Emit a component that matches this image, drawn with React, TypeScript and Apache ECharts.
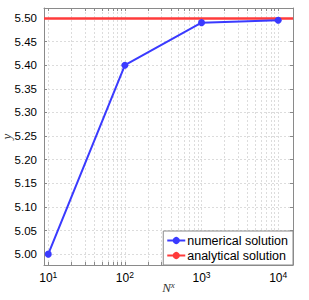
import React, { useEffect, useRef } from "react";
import * as echarts from "echarts";

const xValues = [10, 100, 1000, 10000];
const numerical = [5.0, 5.4, 5.49, 5.495];
const analytical = 5.4966;
const yTickValues = [5.0, 5.05, 5.1, 5.15, 5.2, 5.25, 5.3, 5.35, 5.4, 5.45, 5.5];
const xMajorValues = [10, 100, 1000, 10000];
const xMinorMultipliers = [1, 2, 3, 4, 5, 6, 7, 8, 9];
const xDecades = [10, 100, 1000, 10000];
const seriesNames = ["numerical solution", "analytical solution"];

const xGridValues: number[] = [];
xDecades.forEach((d) => xMinorMultipliers.forEach((m) => xGridValues.push(d * m)));

const X_MIN = 8.8;
const X_MAX = 15600;
const Y_MIN = 4.977;
const Y_MAX = 5.521;

const AXIS_COLOR = "#8a8a8a";
const GRID_LINE = { color: "#dcdcdc", type: [2, 2] as number[], width: 1 };
const FONT = "'Liberation Sans', Arial, Helvetica, sans-serif";
const SERIF = "'Liberation Serif', 'Times New Roman', serif";

export default function App() {
  const ref = useRef<HTMLDivElement>(null);
  useEffect(() => {
    if (!ref.current) return;
    const chart = echarts.init(ref.current, undefined, { renderer: "svg" });
    const xTick = {
      show: true,
      inside: true,
      length: 3,
      customValues: xGridValues,
      lineStyle: { color: AXIS_COLOR, width: 1 },
    };
    const yTick = {
      show: true,
      inside: true,
      length: 3,
      customValues: yTickValues,
      lineStyle: { color: AXIS_COLOR, width: 1 },
    };
    chart.setOption({
      animation: false,
      backgroundColor: "#ffffff",
      grid: {
        left: 44,
        right: 16,
        top: 8,
        bottom: 35,
        containLabel: false,
        outerBoundsMode: "none",
      },
      legend: {
        data: seriesNames,
        orient: "vertical",
        right: 16,
        bottom: 35,
        padding: [3, 5, 3, 3],
        itemGap: 2,
        itemWidth: 18,
        itemHeight: 9,
        backgroundColor: "#ffffff",
        borderColor: AXIS_COLOR,
        borderWidth: 1,
        borderRadius: 0,
        textStyle: { fontFamily: FONT, fontSize: 12.5, color: "#000", padding: [0, 0, 0, -3] },
      },
      xAxis: [
        {
          type: "log",
          logBase: 10,
          min: X_MIN,
          max: X_MAX,
          position: "bottom",
          name: "{n|N}{s|x}",
          nameLocation: "middle",
          nameGap: 15,
          nameMoveOverlap: false,
          nameTextStyle: {
            rich: {
              n: { fontFamily: SERIF, fontStyle: "italic", fontSize: 13, color: "#333", lineHeight: 14 },
              s: {
                fontFamily: SERIF,
                fontStyle: "italic",
                fontSize: 9,
                color: "#333",
                padding: [0, 0, 6, 0],
              },
            },
          },
          axisLine: { show: true, onZero: false, lineStyle: { color: AXIS_COLOR, width: 1 } },
          axisTick: xTick,
          minorTick: { show: false },
          axisLabel: {
            customValues: xMajorValues,
            margin: 5,
            formatter: (v: number) => `{b|10}{s|${Math.round(Math.log10(v))}}`,
            rich: {
              b: { fontFamily: FONT, fontSize: 12, color: "#000", lineHeight: 14 },
              s: { fontFamily: FONT, fontSize: 8.5, color: "#000", padding: [0, 0, 6, 0] },
            },
          },
          splitLine: { show: true, lineStyle: GRID_LINE },
        },
        {
          type: "log",
          logBase: 10,
          min: X_MIN,
          max: X_MAX,
          position: "top",
          axisLine: { show: true, onZero: false, lineStyle: { color: AXIS_COLOR, width: 1 } },
          axisTick: xTick,
          axisLabel: { show: false },
          splitLine: { show: false },
        },
      ],
      yAxis: [
        {
          type: "value",
          min: Y_MIN,
          max: Y_MAX,
          position: "left",
          name: "y",
          nameLocation: "middle",
          nameGap: 31,
          nameMoveOverlap: false,
          nameTextStyle: { fontFamily: SERIF, fontStyle: "italic", fontSize: 13, color: "#333" },
          axisLine: { show: true, onZero: false, lineStyle: { color: AXIS_COLOR, width: 1 } },
          axisTick: yTick,
          axisLabel: {
            customValues: yTickValues,
            margin: 7,
            fontFamily: FONT,
            fontSize: 11.5,
            color: "#000",
            formatter: (v: number) => v.toFixed(2),
          },
          splitLine: { show: true, lineStyle: GRID_LINE },
        },
        {
          type: "value",
          min: Y_MIN,
          max: Y_MAX,
          position: "right",
          axisLine: { show: true, onZero: false, lineStyle: { color: AXIS_COLOR, width: 1 } },
          axisTick: yTick,
          axisLabel: { show: false },
          splitLine: { show: false },
        },
      ],
      series: [
        {
          name: seriesNames[0],
          type: "line",
          data: xValues.map((x, i) => [x, numerical[i]]),
          symbol: "circle",
          symbolSize: 7,
          color: "#3a3aff",
          lineStyle: { color: "#3a3aff", width: 2 },
          itemStyle: { color: "#3a3aff" },
          z: 5,
        },
        {
          name: seriesNames[1],
          type: "line",
          data: [],
          symbol: "none",
          color: "#ff3b3b",
          lineStyle: { color: "#ff3b3b", width: 2.5 },
          itemStyle: { color: "#ff3b3b" },
          markLine: {
            silent: true,
            symbol: "none",
            label: { show: false },
            lineStyle: { color: "#ff3b3b", width: 2.5, type: "solid" },
            data: [{ yAxis: analytical }],
          },
          z: 4,
        },
      ],
    });
    return () => chart.dispose();
  }, []);
  return (
    <div
      ref={ref}
      style={{ position: "absolute", left: 0, top: 0, width: 309, height: 300 }}
    />
  );
}
